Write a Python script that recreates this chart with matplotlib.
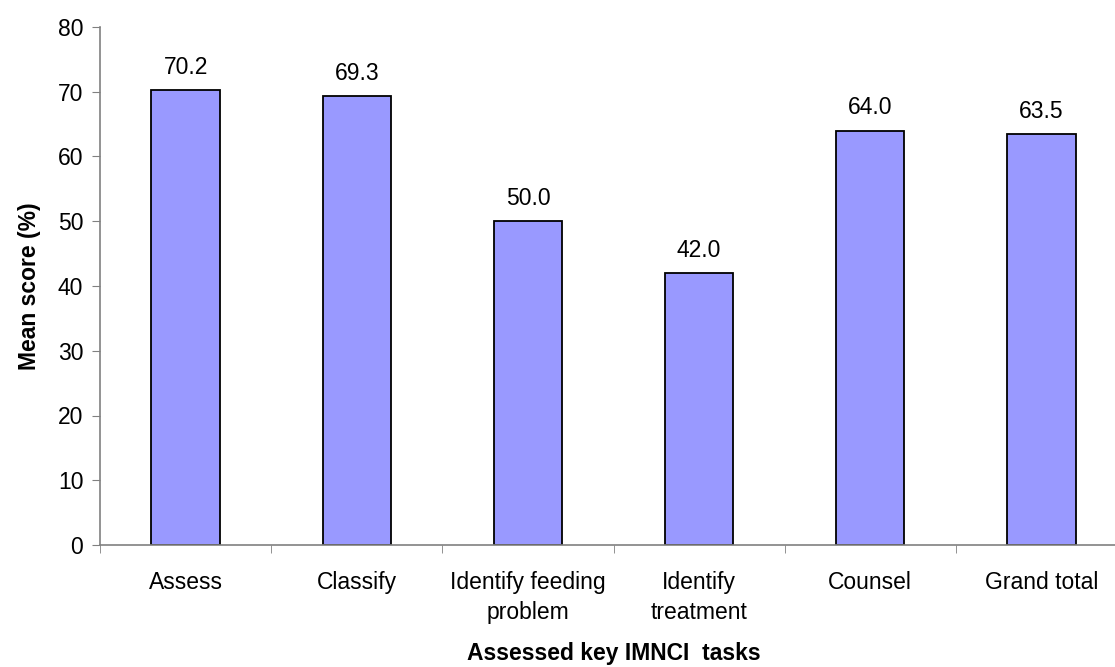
import numpy as np
import matplotlib.pyplot as plt

# Mean score per assessed IMNCI task
tasks = ['Assess', 'Classify', 'Identify feeding\nproblem', 'Identify\ntreatment',
         'Counsel', 'Grand total']
scores = [70.2, 69.3, 50.0, 42.0, 64.0, 63.5]

plt.rcParams['font.family'] = ['Liberation Sans', 'DejaVu Sans']
fs = 16.5

fig = plt.figure(figsize=(11.15, 6.67), dpi=100)
# axes runs a little past the right edge, like the original export
ax = fig.add_axes([100 / 1115, 1 - 545 / 667, 1027 / 1115, 518 / 667])

x = np.arange(len(tasks))
bars = ax.bar(x, scores, width=0.40, color='#9999FF', edgecolor='black', linewidth=1.3)

for xi, v in zip(x, scores):
    ax.annotate(f'{v:.1f}', (xi, v), xytext=(0, 8), textcoords='offset points',
                ha='center', va='bottom', fontsize=fs)

ax.set_xlim(-0.5, len(tasks) - 0.5)
ax.set_ylim(0, 80)
ax.set_yticks(np.arange(0, 81, 10))

# labels on the bar centres, tick marks on the category boundaries
ax.set_xticks(x)
ax.set_xticklabels(tasks, fontsize=fs, linespacing=1.35)
ax.set_xticks(np.arange(len(tasks) + 1) - 0.5, minor=True)
ax.tick_params(axis='x', which='major', length=0, pad=19)
ax.tick_params(axis='x', which='minor', length=6, direction='out', color='#808080')
ax.tick_params(axis='y', length=6, direction='out', color='#808080', labelsize=fs, pad=6)

for s in ['top', 'right']:
    ax.spines[s].set_visible(False)
for s in ['left', 'bottom']:
    ax.spines[s].set_color('#808080')
    ax.spines[s].set_linewidth(1.2)

ax.set_ylabel('Mean score (%)', fontsize=fs, fontweight='bold', labelpad=12)
ax.set_xlabel('Assessed key IMNCI  tasks', fontsize=fs, fontweight='bold', labelpad=13)

fig.savefig('out.png', dpi=100)
